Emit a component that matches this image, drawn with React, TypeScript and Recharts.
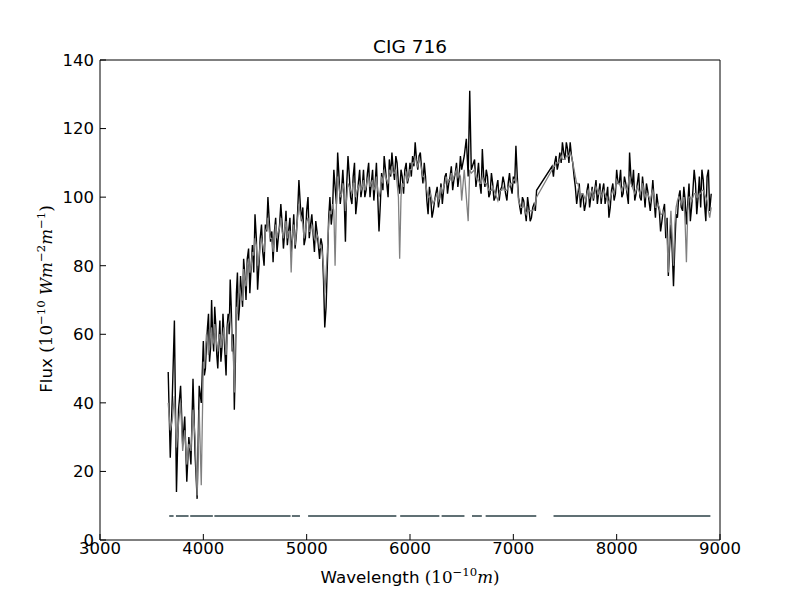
import { LineChart, Line, XAxis, YAxis, Label } from "recharts";

const wavelengths = [
    3660, 3680, 3700, 3720, 3740, 3760, 3780, 3800, 3820, 3840,
    3860, 3880, 3900, 3920, 3940, 3960, 3980, 4000, 4020, 4040,
    4060, 4080, 4100, 4120, 4140, 4160, 4180, 4200, 4220, 4240,
    4260, 4280, 4300, 4320, 4340, 4360, 4380, 4400,
    4425, 4450, 4475, 4500, 4525, 4550, 4575, 4600, 4625, 4650,
    4675, 4700, 4725, 4750, 4775, 4800, 4825, 4850, 4875, 4900,
    4925, 4950, 4975, 5000,
    5025, 5050, 5075, 5100, 5125, 5150, 5175, 5200, 5225, 5250,
    5275, 5300, 5325, 5350, 5375, 5400, 5425, 5450, 5475, 5500,
    5525, 5550, 5575, 5600, 5625, 5650, 5675, 5700, 5725, 5750,
    5775, 5800, 5825, 5850, 5875, 5900, 5925, 5950, 5975, 6000,
    6025, 6050, 6075, 6100, 6125, 6150, 6175, 6200, 6225, 6250,
    6275, 6300, 6325, 6350, 6375, 6400, 6425, 6450, 6475, 6500,
    6525, 6545, 6563, 6578, 6593, 6625, 6650, 6675, 6700, 6725,
    6750, 6775, 6800, 6825, 6850, 6875, 6900, 6925, 6950, 6975,
    7000, 7025, 7050, 7075, 7100, 7125, 7150, 7175, 7200, 7225,
    7375, 7400, 7425, 7450, 7475, 7500, 7525, 7550, 7575, 7600,
    7625, 7650, 7675, 7700, 7725, 7750, 7775, 7800, 7825, 7850,
    7875, 7900, 7925, 7950, 7975, 8000,
    8025, 8050, 8075, 8100, 8125, 8150, 8175, 8200, 8225, 8250,
    8275, 8300, 8325, 8350, 8375, 8400, 8425, 8450, 8475, 8500,
    8525, 8550, 8575, 8600, 8625, 8650, 8675, 8700, 8725, 8750,
    8775, 8800, 8825, 8850, 8875, 8900, 8915,
];

const observedFlux = [
    49, 24, 42, 64, 14, 38, 45, 28, 36, 17,
    30, 22, 47, 25, 12, 45, 40, 58, 50, 62,
    52, 70, 55, 63, 50, 64, 56, 60, 48, 66,
    76, 55, 38, 72, 64, 77, 68, 78,
    82, 72, 86, 95, 73, 88, 84, 92, 100, 87,
    81, 94, 88, 98, 85, 96, 90, 84, 95, 89,
    105, 93, 86, 96,
    88, 95, 84, 90, 82, 86, 62, 80, 100, 96,
    103, 113, 98, 108, 87, 112, 100, 106, 95, 104,
    100, 108, 102, 110, 104, 99, 110, 90, 107, 112,
    104, 111, 113, 105, 110, 101, 106, 108, 104, 110,
    112, 116, 108, 113, 104, 106, 95, 100, 96, 101,
    97, 104, 102, 107, 104, 109, 105, 110, 106, 108,
    112, 117, 106, 131, 108, 111, 106, 104, 114, 103,
    106, 101, 104, 100, 105, 102, 106, 101, 104, 103,
    106, 115, 100, 95, 99, 93, 97, 94, 98, 102,
    109, 110, 108, 113, 116, 111, 114, 116, 110, 103,
    101, 97, 100, 98, 104, 100, 99, 105, 101, 98,
    104, 100, 94, 102, 99, 108,
    104, 100, 106, 101, 113, 103, 99, 104, 100, 106,
    97, 102, 96, 105, 94, 98, 90, 96, 88, 77,
    92, 74, 95, 100, 97, 103, 92, 104, 97, 108,
    95, 106, 108, 98, 106, 96, 101,
];

const modelFlux = [
    40, 32, 35, 42, 27, 34, 40, 26, 32, 22,
    28, 26, 38, 30, 13, 38, 16, 52, 55, 58,
    56, 62, 58, 60, 55, 60, 58, 62, 54, 63,
    66, 58, 43, 68, 70, 72, 70, 76,
    80, 78, 84, 88, 80, 86, 86, 90, 94, 88,
    84, 92, 90, 94, 88, 93, 90, 78, 92, 90,
    98, 94, 88, 93,
    90, 92, 88, 89, 85, 84, 72, 84, 96, 98,
    80, 106, 100, 104, 96, 104, 102, 104, 100, 103,
    102, 105, 103, 106, 104, 102, 106, 100, 106, 108,
    105, 108, 109, 107, 104, 82, 104, 106, 105, 108,
    110, 112, 109, 110, 106, 104, 100, 101, 98, 100,
    99, 103, 103, 106, 105, 107, 106, 108, 107, 99,
    108, 100, 93, 108, 107, 108, 105, 104, 106, 104,
    103, 102, 103, 101, 99, 102, 103, 102, 103, 104,
    105, 106, 99, 97, 98, 95, 96, 96, 97, 100,
    108, 109, 110, 111, 111, 111, 112, 113, 110, 106,
    104, 100, 101, 99, 102, 101, 100, 103, 101, 100,
    102, 100, 98, 101, 101, 105,
    104, 102, 104, 102, 106, 103, 101, 103, 101, 104,
    100, 101, 99, 102, 97, 98, 95, 96, 93, 78,
    96, 80, 97, 100, 98, 100, 81, 100, 99, 101,
    100, 101, 102, 101, 99, 94, 97,
];

// extra samples between the grid points above, where the spectrum is noisy
const midWavelengths = [
    4010, 4030, 4050, 4070, 4090, 4110, 4130, 4150, 4170, 4190,
    4210, 4230, 4250, 4270, 4290, 4310, 4330, 4350, 4370, 4390,
    4413, 4438, 4463, 4488, 4513, 4538, 4563, 4588, 4613, 4638,
    4663, 4688, 4713, 4738, 4763, 4788, 4813, 4838, 4863, 4888,
    4913, 4938, 4963, 4988,
    5013, 5038, 5063, 5088, 5113, 5138, 5163, 5188, 5213, 5238,
    5263, 5288, 5313, 5338, 5363, 5388, 5413, 5438, 5463, 5488,
    5513, 5538, 5563, 5588, 5613, 5638, 5663, 5688, 5713, 5738,
    5763, 5788, 5813, 5838, 5863, 5888, 5913, 5938, 5963, 5988,
    6013, 6038, 6063, 6088, 6113, 6138, 6163, 6188, 6213, 6238,
    6263, 6288, 6313, 6338, 6363, 6388, 6413, 6438, 6463, 6488,
    6638, 6663, 6688, 6713, 6738, 6763, 6788, 6813, 6838, 6863,
    6888, 6913, 6938, 6963, 6988, 7013, 7038, 7063, 7088, 7113,
    7138, 7163, 7188, 7213,
    7388, 7413, 7438, 7463, 7488, 7513, 7538, 7563, 7588,
    7613, 7638, 7663, 7688, 7713, 7738, 7763, 7788, 7813, 7838,
    7863, 7888, 7913, 7938, 7963, 7988, 8013, 8038, 8063, 8088,
    8113, 8138, 8163, 8188, 8213, 8238, 8263, 8288, 8313, 8338,
    8363, 8388, 8413, 8438, 8463, 8488, 8513, 8538, 8563, 8588,
    8613, 8638, 8663, 8688, 8713, 8738, 8763, 8788, 8813, 8838,
    8863, 8888,
];

const midObserved = [
    48, 57, 66, 56, 60, 68, 54, 58, 52, 66,
    54, 62, 60, 68, 60, 52, 78, 68, 72, 82,
    70, 85, 80, 78, 88, 80, 92, 80, 90, 93,
    90, 90, 84, 92, 92, 90, 86, 94, 88, 85,
    96, 98, 97, 88,
    100, 92, 89, 93, 86, 88, 76, 68, 94, 92,
    108, 98, 106, 102, 100, 104, 106, 98, 110, 99,
    108, 103, 100, 107, 100, 108, 104, 100, 98, 102,
    108, 100, 106, 108, 112, 104, 108, 101, 110, 106,
    106, 109, 111, 112, 108, 110, 99, 103, 94, 99,
    103, 100, 98, 106, 101, 106, 102, 107, 103, 112,
    103, 110, 101, 106, 108, 100, 107, 99, 103, 99,
    103, 104, 99, 107, 101, 104, 106, 97, 100, 96,
    100, 93, 97, 96,
    106, 112, 110, 110, 113, 116, 110, 112, 106,
    98, 104, 101, 96, 102, 97, 103, 102, 98, 104,
    102, 98, 103, 97, 104, 101, 104, 108, 101, 104,
    98, 106, 108, 101, 107, 99, 102, 104, 99, 100,
    99, 101, 96, 93, 98, 94, 86, 84, 86, 94,
    102, 96, 99, 98, 93, 102, 104, 100, 97, 105,
    93, 108,
];

const midModel = [
    50, 60, 54, 60, 57, 63, 57, 59, 56, 60,
    58, 59, 64, 62, 54, 58, 66, 74, 70, 79,
    74, 82, 80, 83, 86, 82, 88, 84, 91, 90,
    88, 88, 88, 91, 90, 91, 88, 90, 89, 86,
    94, 95, 92, 90,
    94, 90, 90, 87, 88, 86, 80, 78, 92, 95,
    96, 98, 103, 101, 102, 100, 103, 101, 104, 102,
    104, 103, 102, 105, 103, 105, 103, 102, 102, 104,
    106, 104, 107, 107, 108, 100, 100, 103, 107, 106,
    108, 110, 110, 111, 108, 106, 102, 100, 99, 99,
    101, 100, 101, 104, 104, 105, 105, 107, 106, 106,
    106, 105, 104, 105, 104, 102, 102, 102, 100, 101,
    102, 102, 102, 103, 104, 105, 104, 98, 97, 96,
    96, 96, 96, 98,
    109, 110, 110, 112, 111, 112, 112, 112, 108,
    104, 102, 101, 100, 101, 100, 102, 101, 102, 102,
    101, 101, 99, 100, 102, 103, 104, 103, 103, 103,
    104, 104, 102, 102, 102, 102, 102, 101, 100, 101,
    100, 97, 97, 95, 95, 88, 90, 88, 92, 99,
    99, 99, 92, 96, 100, 100, 101, 100, 101, 102,
    100, 96,
];

// wavelength ranges used in the fit, drawn as a bar near the bottom
const maskSegments = [
    [3670, 3712], [3735, 3857], [3873, 4092], [4107, 4844], [4857, 4935],
    [5014, 5868], [5905, 6284], [6306, 6527], [6600, 6695], [6732, 7222],
    [7389, 8907],
];
const MASK_LEVEL = 7;

const xTicks = [3000, 4000, 5000, 6000, 7000, 8000, 9000];
const yTicks = [0, 20, 40, 60, 80, 100, 120, 140];

const spectrum = [
    ...wavelengths.map((w, i) => ({ w, obs: observedFlux[i], model: modelFlux[i] })),
    ...midWavelengths.map((w, i) => ({ w, obs: midObserved[i], model: midModel[i] })),
].sort((a, b) => a.w - b.w);

const maskData = maskSegments.flatMap(([a, b]) => [
    { w: a, mask: MASK_LEVEL },
    { w: b, mask: MASK_LEVEL },
    { w: b, mask: null },
]);

const tickFont = { fontSize: 16.5, fill: "#000", fontFamily: "DejaVu Sans" };
const MATH = "DejaVu Serif";

function Title() {
    return (
        <text x={410} y={53} textAnchor="middle" fontSize={18.5} fill="#000" fontFamily="DejaVu Sans">
            CIG 716
        </text>
    );
}

function XTitle() {
    return (
        <text x={410} y={583} textAnchor="middle" fontSize={16.7} fill="#000" fontFamily="DejaVu Sans">
            <tspan>Wavelength </tspan>
            <tspan fontFamily={MATH}>(10</tspan>
            <tspan fontFamily={MATH} fontSize={11.7} dy={-7}>−10</tspan>
            <tspan fontFamily={MATH} fontStyle="italic" dy={7}>m</tspan>
            <tspan fontFamily={MATH}>)</tspan>
        </text>
    );
}

function YTitle() {
    return (
        <text
            x={52}
            y={299}
            transform="rotate(-90 52 299)"
            textAnchor="middle"
            fontSize={16.7}
            fill="#000"
            fontFamily="DejaVu Sans"
        >
            <tspan>Flux </tspan>
            <tspan fontFamily={MATH}>(10</tspan>
            <tspan fontFamily={MATH} fontSize={11.7} dy={-7}>−10</tspan>
            <tspan fontFamily={MATH} fontStyle="italic" dy={7}> Wm</tspan>
            <tspan fontFamily={MATH} fontSize={11.7} dy={-7}>−2</tspan>
            <tspan fontFamily={MATH} fontStyle="italic" dy={7}>m</tspan>
            <tspan fontFamily={MATH} fontSize={11.7} dy={-7}>−1</tspan>
            <tspan fontFamily={MATH} dy={7}>)</tspan>
        </text>
    );
}

export default function App() {
    return (
        <div style={{ position: "absolute", left: 0, top: 0, width: 800, height: 600, background: "#fff" }}>
            <LineChart width={800} height={600} margin={{ top: 59, right: 79, bottom: 30, left: 0 }}>
                <XAxis
                    dataKey="w"
                    type="number"
                    domain={[3000, 9000]}
                    ticks={xTicks}
                    allowDataOverflow
                    height={30}
                    tickSize={-6}
                    tickMargin={8}
                    tick={tickFont}
                    axisLine={{ stroke: "#000" }}
                    tickLine={{ stroke: "#000" }}
                >
                    <Label content={() => <XTitle />} />
                </XAxis>
                <XAxis
                    xAxisId="top"
                    orientation="top"
                    dataKey="w"
                    type="number"
                    domain={[3000, 9000]}
                    ticks={xTicks}
                    allowDataOverflow
                    height={1}
                    tickSize={-6}
                    tick={false}
                    axisLine={{ stroke: "#000" }}
                    tickLine={{ stroke: "#000" }}
                >
                    <Label content={() => <Title />} />
                </XAxis>
                <YAxis
                    type="number"
                    domain={[0, 140]}
                    ticks={yTicks}
                    allowDataOverflow
                    width={100}
                    tickSize={-6}
                    tickMargin={12}
                    tick={tickFont}
                    axisLine={{ stroke: "#000" }}
                    tickLine={{ stroke: "#000" }}
                >
                    <Label content={() => <YTitle />} />
                </YAxis>
                <YAxis
                    yAxisId="right"
                    orientation="right"
                    type="number"
                    domain={[0, 140]}
                    ticks={yTicks}
                    allowDataOverflow
                    width={1}
                    tickSize={-6}
                    tick={false}
                    axisLine={{ stroke: "#000" }}
                    tickLine={{ stroke: "#000" }}
                />
                {/* invisible series so the top and right frame axes get scales */}
                <Line
                    data={maskData}
                    dataKey="mask"
                    xAxisId="top"
                    yAxisId="right"
                    stroke="none"
                    dot={false}
                    isAnimationActive={false}
                />
                <Line
                    data={maskData}
                    dataKey="mask"
                    stroke="#607074"
                    strokeWidth={2}
                    dot={false}
                    connectNulls={false}
                    isAnimationActive={false}
                />
                <Line
                    data={spectrum}
                    dataKey="obs"
                    stroke="#000"
                    strokeWidth={1.4}
                    dot={false}
                    isAnimationActive={false}
                />
                <Line
                    data={spectrum}
                    dataKey="model"
                    stroke="#808080"
                    strokeWidth={1.3}
                    dot={false}
                    isAnimationActive={false}
                />
            </LineChart>
        </div>
    );
}
